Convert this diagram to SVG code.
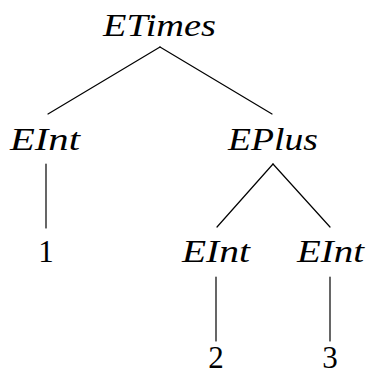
<svg xmlns="http://www.w3.org/2000/svg" width="366" height="376" viewBox="0 0 366 376">
  <style>
    .bg { fill: #ffffff; }
    .lbl { font-family: "Liberation Serif", "DejaVu Serif", serif; font-style: italic; font-size: 31px; fill: #000000; }
    .num { font-family: "Liberation Serif", "DejaVu Serif", serif; font-size: 31px; fill: #000000; text-anchor: middle; }
    .edge { stroke: #000000; stroke-width: 1.2; fill: none; stroke-linecap: round; }
  </style>
  <rect class="bg" x="0" y="0" width="366" height="376"/>

  <!-- tree edges -->
  <g id="edges">
    <line class="edge" x1="160" y1="47" x2="48" y2="114"/>
    <line class="edge" x1="160" y1="47" x2="272" y2="114"/>
    <line class="edge" x1="46" y1="164" x2="46" y2="228"/>
    <line class="edge" x1="273" y1="164" x2="217" y2="227"/>
    <line class="edge" x1="273" y1="164" x2="330" y2="227"/>
    <line class="edge" x1="216" y1="277" x2="216" y2="341"/>
    <line class="edge" x1="330" y1="277" x2="330" y2="341"/>
  </g>

  <!-- nodes -->
  <g id="node-etimes">
    <text class="lbl" x="103" y="36" textLength="113" lengthAdjust="spacingAndGlyphs">ETimes</text>
  </g>
  <g id="node-eint-left">
    <text class="lbl" x="10" y="150" textLength="70" lengthAdjust="spacingAndGlyphs">EInt</text>
  </g>
  <g id="node-eplus">
    <text class="lbl" x="228" y="150" textLength="90" lengthAdjust="spacingAndGlyphs">EPlus</text>
  </g>
  <g id="node-one">
    <text class="num" x="46" y="262">1</text>
  </g>
  <g id="node-eint-mid">
    <text class="lbl" x="182" y="262" textLength="68" lengthAdjust="spacingAndGlyphs">EInt</text>
  </g>
  <g id="node-eint-right">
    <text class="lbl" x="297" y="262" textLength="67" lengthAdjust="spacingAndGlyphs">EInt</text>
  </g>
  <g id="node-two">
    <text class="num" x="216" y="368">2</text>
  </g>
  <g id="node-three">
    <text class="num" x="330" y="368">3</text>
  </g>
</svg>
